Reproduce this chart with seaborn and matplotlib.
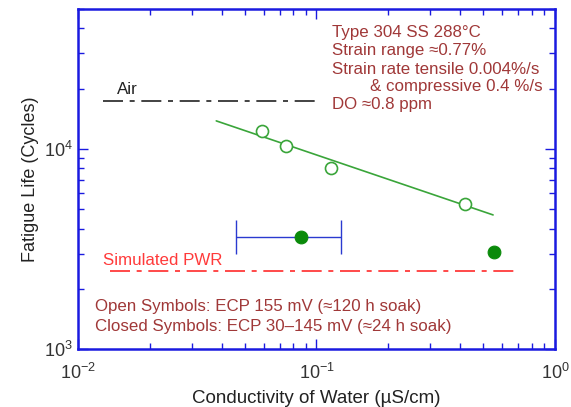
import matplotlib
matplotlib.use("Agg")
import matplotlib.pyplot as plt
import seaborn as sns
import numpy as np
import pandas as pd
from matplotlib.ticker import LogLocator, NullFormatter

sns.set_theme(style="ticks")
plt.rcParams['font.family'] = ['Liberation Sans', 'DejaVu Sans']
plt.rcParams['mathtext.fontset'] = 'custom'
plt.rcParams['mathtext.rm'] = 'Liberation Sans'
plt.rcParams['mathtext.it'] = 'Liberation Sans:italic'

# data
open_cond = [0.059, 0.0745, 0.115, 0.42]
open_life = [12300, 10350, 8040, 5310]
closed_cond = [0.086, 0.555]
closed_life = [3630, 3055]
err_lo = [0.046]
err_hi = [0.127]
fit_cond = [0.038, 0.55]
fit_life = [13800, 4677]
air_cond = [0.0127, 0.104]
air_life = [17400, 17400]
pwr_cond = [0.0136, 0.693]
pwr_life = [2455, 2455]

fig = plt.figure(figsize=(5.71, 4.07), dpi=100)
ax = fig.add_axes([78/571, 1-349/407, (555-78)/571, (349-9)/407])
ax.set_xscale('log'); ax.set_yscale('log')

sns.lineplot(x=fit_cond, y=fit_life, ax=ax, color='#3aa53a', lw=1.2)
sns.lineplot(x=air_cond, y=air_life, ax=ax, color='#222222', lw=1.2, dashes=False)
ax.lines[-1].set_dashes([12, 4, 3, 4])
sns.lineplot(x=pwr_cond, y=pwr_life, ax=ax, color='#ff2a2a', lw=1.2)
ax.lines[-1].set_dashes([12, 4, 3, 4])
ax.errorbar(closed_cond[:1], closed_life[:1],
            xerr=[[closed_cond[0]-err_lo[0]], [err_hi[0]-closed_cond[0]]],
            fmt='none', ecolor='#2a3ad0', elinewidth=1.0, capsize=12, capthick=1.0)
ax.scatter(open_cond, open_life, s=75, facecolors='white', edgecolors='#3aa53a', linewidths=1.2, zorder=4)
sns.scatterplot(x=closed_cond, y=closed_life, ax=ax, color='#0a8a0a', s=85, edgecolor='#0a8a0a', zorder=5)

ax.set_xlim(1e-2, 1)
ax.set_ylim(1e3, 5e4)

for sp in ax.spines.values():
    sp.set_color('#1a1ae0'); sp.set_linewidth(1.8); sp.set_visible(True)
ax.xaxis.set_major_locator(LogLocator(base=10))
ax.yaxis.set_major_locator(LogLocator(base=10))
ax.xaxis.set_minor_locator(LogLocator(base=10, subs=np.arange(2, 10)))
ax.yaxis.set_minor_locator(LogLocator(base=10, subs=np.arange(2, 10)))
ax.xaxis.set_minor_formatter(NullFormatter()); ax.yaxis.set_minor_formatter(NullFormatter())
ax.tick_params(which='both', direction='in', top=True, right=True, color='#1a1ae0', width=1.0,
               labelcolor='#333333', labelsize=13)
ax.tick_params(which='major', length=7)
ax.tick_params(which='minor', length=4)
ax.tick_params(axis='x', pad=10)
ax.grid(False)

ax.set_xlabel('Conductivity of Water (µS/cm)', fontsize=13.5, color='#222222', labelpad=5)
ax.set_ylabel('Fatigue Life (Cycles)', fontsize=13, color='#222222', labelpad=4)

tc = '#a03838'
fs = 12.2
ax.text(0.0146, 18800, 'Air', fontsize=fs, color='#222222')
ax.text(0.0127, 2620, 'Simulated PWR', fontsize=fs, color='#ff3a3a')
lines = [('Type 304 SS 288°C', 332, 33), ('Strain range ≈0.77%', 332, 51),
         ('Strain rate tensile 0.004%/s', 332, 69), ('& compressive 0.4 %/s', 370, 87),
         ('DO ≈0.8 ppm', 332, 105)]
for t, px, py in lines:
    fig.text(px/571, 1-py/407, t, fontsize=fs, color=tc, va='center')
fig.text(95/571, 1-307/407, 'Open Symbols: ECP 155 mV (≈120 h soak)', fontsize=fs, color=tc, va='center')
fig.text(95/571, 1-326/407, 'Closed Symbols: ECP 30–145 mV (≈24 h soak)', fontsize=fs, color=tc, va='center')

fig.savefig('out.png', dpi=100)
